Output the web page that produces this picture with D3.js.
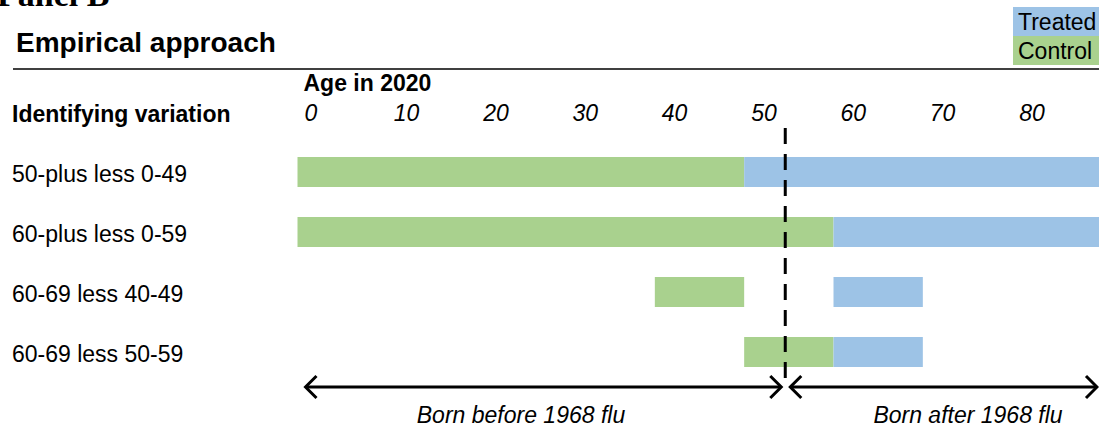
<!DOCTYPE html>
<html>
<head>
<meta charset="utf-8">
<script src="https://cdn.jsdelivr.net/npm/d3@7"></script>
<style>
  body { margin: 0; background: #fff; }
  svg { display: block; font-family: "Liberation Sans", Arial, sans-serif; }
</style>
</head>
<body>
<div id="chart"></div>
<script>
// Rows of the design, top to bottom
const rowLabels = ["50-plus less 0-49", "60-plus less 0-59", "60-69 less 40-49", "60-69 less 50-59"];
// Control age ranges [start, end) per row
const controlRanges = [[0, 50], [0, 60], [40, 50], [50, 60]];
// Treated age ranges [start, end) per row
const treatedRanges = [[50, 90], [60, 90], [60, 70], [60, 70]];
// Age ticks
const ageTicks = [0, 10, 20, 30, 40, 50, 60, 70, 80];
// Age that marks the 1968 flu cohort boundary
const fluAge = 54.6;
const legendItems = ["Treated", "Control"];
const arrowLabels = ["Born before 1968 flu", "Born after 1968 flu"];

const width = 1099, height = 428;
const colors = { Treated: "#9dc3e6", Control: "#a9d18e" };

const svg = d3.select("#chart")
    .append("svg")
    .attr("width", width)
    .attr("height", height);

// Scales
const x = d3.scaleLinear().domain([0, 90]).range([297.5, 1101.5]);
const y = d3.scaleBand().domain(rowLabels).range([142, 382]).paddingInner(0.5).paddingOuter(0.25);

// Panel heading, cut by the top edge
svg.append("text")
    .attr("x", -3).attr("y", 6)
    .attr("font-family", "Liberation Serif, Times New Roman, serif")
    .attr("font-weight", "bold")
    .attr("font-size", 34)
    .text("Panel B");

svg.append("text")
    .attr("x", 16).attr("y", 52)
    .attr("font-weight", "bold")
    .attr("font-size", 28)
    .text("Empirical approach");

svg.append("line")
    .attr("x1", 13).attr("x2", width)
    .attr("y1", 69).attr("y2", 69)
    .attr("stroke", "#000")
    .attr("stroke-width", 1.5);

// Legend
legendItems.forEach((k, i) => {
    svg.append("rect")
        .attr("x", 1013).attr("y", 7 + i * 29)
        .attr("width", 95).attr("height", 29)
        .attr("fill", colors[k]);
    svg.append("text")
        .attr("x", 1018).attr("y", 30 + i * 29)
        .attr("font-size", 23)
        .text(k);
});

svg.append("text")
    .attr("x", x(0) + 6).attr("y", 91)
    .attr("font-weight", "bold")
    .attr("font-size", 23)
    .text("Age in 2020");

svg.append("text")
    .attr("x", 12).attr("y", 122)
    .attr("font-weight", "bold")
    .attr("font-size", 23)
    .text("Identifying variation");

// Age tick labels
svg.selectAll(".tick-label")
    .data(ageTicks)
    .enter().append("text")
    .attr("class", "tick-label")
    .attr("x", d => x(d) + 7)
    .attr("y", 121)
    .attr("font-style", "italic")
    .attr("font-size", 23)
    .text(d => d);

// Row labels
svg.selectAll(".row-label")
    .data(rowLabels)
    .enter().append("text")
    .attr("class", "row-label")
    .attr("x", 12)
    .attr("y", d => y(d) + y.bandwidth() / 2 + 10)
    .attr("font-size", 23)
    .text(d => d);

// Bars
const bars = [];
rowLabels.forEach((r, i) => {
    bars.push({ row: r, key: "Control", range: controlRanges[i] });
    bars.push({ row: r, key: "Treated", range: treatedRanges[i] });
});

svg.selectAll(".bar")
    .data(bars)
    .enter().append("rect")
    .attr("class", "bar")
    .attr("x", d => x(d.range[0]))
    .attr("width", d => x(d.range[1]) - x(d.range[0]))
    .attr("y", d => y(d.row))
    .attr("height", y.bandwidth())
    .attr("fill", d => colors[d.key]);

// Dashed divider
svg.append("line")
    .attr("x1", x(fluAge)).attr("x2", x(fluAge))
    .attr("y1", 128).attr("y2", 388)
    .attr("stroke", "#000")
    .attr("stroke-width", 3)
    .attr("stroke-dasharray", "16,10");

// Double-headed arrows
const arrowY = 387;
const arrowSpans = [[x(0) + 8, x(fluAge) - 4], [x(fluAge) + 5, width - 2]];

function arrowHead(tipX, dir) {
    // dir: -1 points left, 1 points right
    const h = 11;
    svg.append("path")
        .attr("d", `M${tipX - dir * h},${arrowY - h} L${tipX},${arrowY} L${tipX - dir * h},${arrowY + h}`)
        .attr("fill", "none")
        .attr("stroke", "#000")
        .attr("stroke-width", 3)
        .attr("stroke-linejoin", "miter");
}

arrowSpans.forEach((s, i) => {
    svg.append("line")
        .attr("x1", s[0] + 1).attr("x2", s[1] - 1)
        .attr("y1", arrowY).attr("y2", arrowY)
        .attr("stroke", "#000")
        .attr("stroke-width", 3);
    arrowHead(s[0], -1);
    arrowHead(s[1], 1);
    svg.append("text")
        .attr("x", i === 0 ? 521 : 968)
        .attr("y", 423)
        .attr("text-anchor", "middle")
        .attr("font-style", "italic")
        .attr("font-size", 23)
        .text(arrowLabels[i]);
});
</script>
</body>
</html>
